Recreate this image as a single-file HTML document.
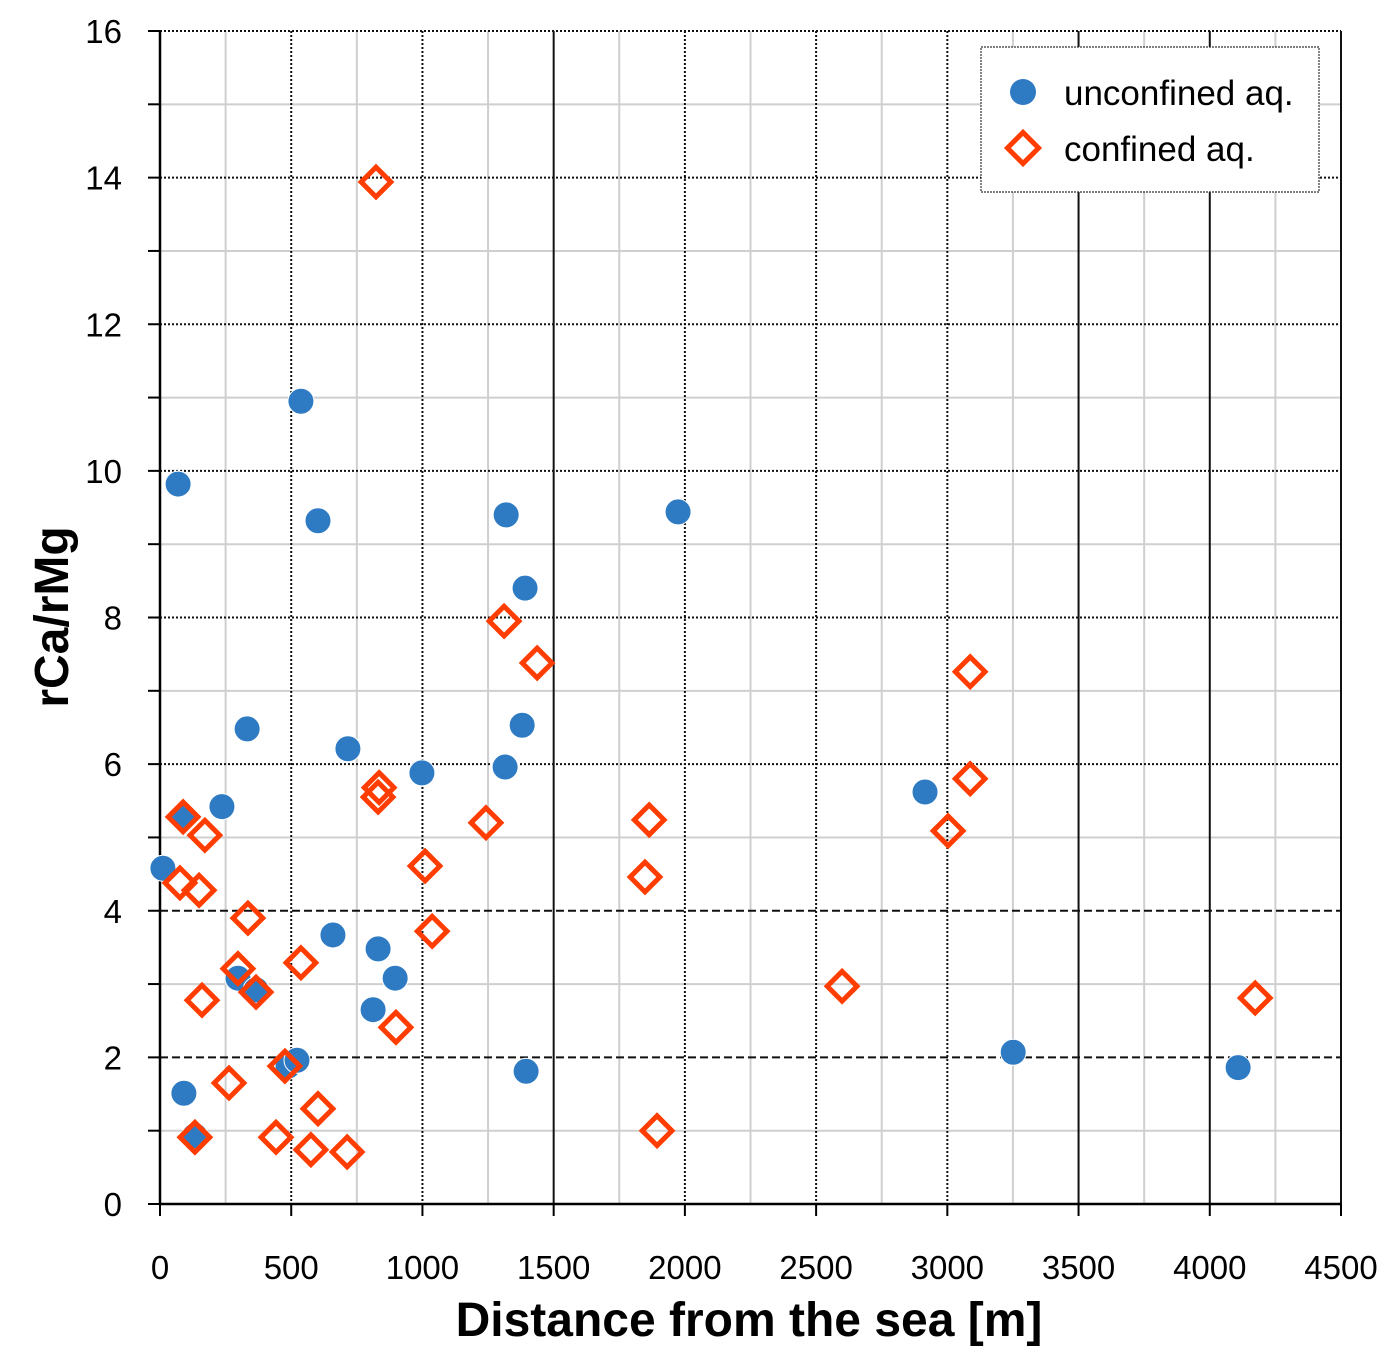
<!DOCTYPE html>
<html><head><meta charset="utf-8"><style>
body{margin:0;background:#fff}
svg text{font-family:"Liberation Sans",sans-serif}
</style></head><body>
<svg id="chart" width="1394" height="1367" xmlns="http://www.w3.org/2000/svg">
<g id="grid"></g>
<g id="axes"></g>
<g id="marks"></g>
<text x="749" y="1336" text-anchor="middle" font-size="48" font-weight="bold">Distance from the sea [m]</text>
<text transform="translate(68,617) rotate(-90)" text-anchor="middle" font-size="48" font-weight="bold">rCa/rMg</text>
<g>
<rect x="981" y="47" width="338" height="145" fill="#fff" stroke="#333" stroke-width="1.2" stroke-dasharray="2,1"/>
<g>
<circle cx="1023" cy="92" r="13" fill="#2e7bc4"/>
<text x="1064" y="105" font-size="35">unconfined aq.</text></g>
<g>
<rect x="1012" y="137" width="22" height="22" transform="rotate(45 1023 148)" fill="#fff" stroke="#ff3d00" stroke-width="5"/>
<text x="1064" y="161" font-size="35">confined aq.</text></g>
</g>
</svg>
<script>
const xTicks=[0,500,1000,1500,2000,2500,3000,3500,4000,4500];
const yTicks=[0,2,4,6,8,10,12,14,16];
const unconfX=[11,69,91,236,332,297,366,88,133,488,522,537,602,659,716,812,831,896,998,1319,1315,1380,1391,1395,1974,2915,3251,4108];
const unconfY=[4.58,9.82,1.51,5.42,6.48,3.08,2.92,5.28,0.93,1.88,1.96,10.95,9.32,3.67,6.21,2.65,3.48,3.08,5.88,9.40,5.96,6.53,8.40,1.81,9.44,5.62,2.07,1.86];
const confX=[823,1311,1437,88,76,171,149,335,297,366,160,133,263,442,476,537,575,602,713,835,831,899,1010,1037,1242,1848,1864,1894,2599,3003,3087,3087,4173];
const confY=[13.94,7.95,7.38,5.28,4.38,5.03,4.28,3.90,3.21,2.89,2.78,0.91,1.65,0.91,1.88,3.29,0.74,1.30,0.71,5.68,5.55,2.41,4.61,3.72,5.20,4.46,5.24,1.0,2.97,5.09,7.26,5.80,2.81];
const NS='http://www.w3.org/2000/svg';
const X0=160,X1=1341,Y0=1204,Y1=31;
const sx=v=>X0+(v-0)/4500*(X1-X0);
const sy=v=>Y0-(v-0)/16*(Y0-Y1);
function mk(t,a,p){const e=document.createElementNS(NS,t);for(const k in a)e.setAttribute(k,a[k]);p.appendChild(e);return e;}
const grid=document.getElementById('grid'),axes=document.getElementById('axes'),marks=document.getElementById('marks');
for(let v=250;v<4500;v+=250){if(v%500)mk('line',{x1:sx(v),x2:sx(v),y1:Y1,y2:Y0,stroke:'#cfcfcf','stroke-width':2},grid);}
for(let v=1;v<16;v+=2){mk('line',{x1:X0,x2:X1,y1:sy(v),y2:sy(v),stroke:'#cfcfcf','stroke-width':2},grid);}
xTicks.forEach(v=>{if(v>0){const l=mk('line',{x1:sx(v),x2:sx(v),y1:Y1,y2:Y0,stroke:'#111','stroke-width':2,'stroke-dasharray':(v==1500||v>=3500)?'none':'2,2'},grid);}
 mk('line',{x1:sx(v),x2:sx(v),y1:Y0,y2:Y0+12,stroke:'#000','stroke-width':2},axes);
 const t=mk('text',{x:sx(v),y:1279,'text-anchor':'middle','font-size':33},axes);t.textContent=v;
 });
yTicks.forEach(v=>{if(v>0){const l=mk('line',{x1:X0,x2:X1,y1:sy(v),y2:sy(v),stroke:'#111','stroke-width':2,'stroke-dasharray':(v<=4)?'8,4':'2,2'},grid);}
 const t=mk('text',{x:122,y:sy(v)+12,'text-anchor':'end','font-size':33},axes);t.textContent=v;
 });
for(let v=0;v<=16;v++)mk('line',{x1:X0-12,x2:X0,y1:sy(v),y2:sy(v),stroke:'#000','stroke-width':2},axes);
mk('line',{x1:X0,x2:X0,y1:Y1,y2:Y0,stroke:'#000','stroke-width':2.5},axes);
mk('line',{x1:X0,x2:X1,y1:Y0,y2:Y0,stroke:'#000','stroke-width':2.5},axes);
unconfX.forEach((x,i)=>{const c=mk('circle',{cx:sx(x),cy:sy(unconfY[i]),r:13,fill:'#2e7bc4',stroke:'#fff','stroke-width':1},marks);
 });
confX.forEach((x,i)=>{const cx=sx(x),cy=sy(confY[i]);
 const d=mk('rect',{x:cx-10.5,y:cy-10.5,width:21,height:21,transform:`rotate(45 ${cx} ${cy})`,fill:'none',stroke:'#ff3d00','stroke-width':5},marks);
 });
</script>
</body></html>
